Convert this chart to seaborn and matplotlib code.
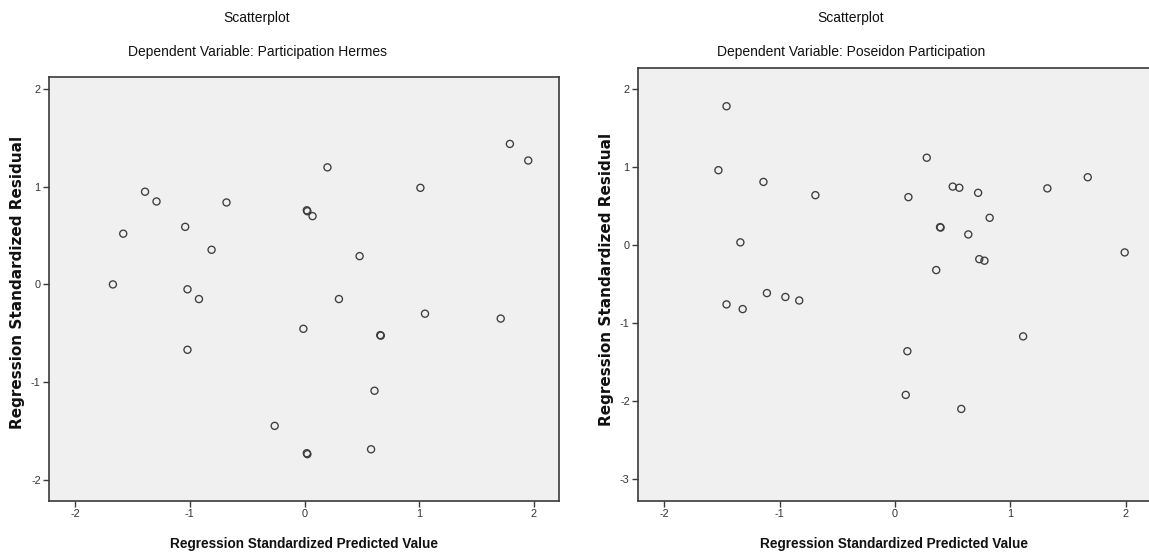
"""
SPSS style residual scatterplots (Hermes / Poseidon participation)
"""
import numpy as np
import pandas as pd
import matplotlib
matplotlib.use("Agg")
import matplotlib.pyplot as plt
import seaborn as sns

# ── data: standardized predicted value vs standardized residual ──
hermes_pred = [-1.67, -1.58, -1.39, -1.29, -1.04, -0.68, -0.81, -1.02, -0.92, -1.02,
               -0.26, 0.02, 0.025, 0.02, 0.025, 0.07, 0.20, 1.01, 1.79, 1.95,
               0.48, 0.30, -0.01, 1.05, 1.71, 0.66, 0.665, 0.61, 0.58]
hermes_resid = [0.00, 0.52, 0.95, 0.85, 0.59, 0.84, 0.355, -0.05, -0.15, -0.67,
                -1.45, -1.73, -1.74, 0.76, 0.75, 0.70, 1.20, 0.99, 1.44, 1.27,
                0.29, -0.15, -0.455, -0.30, -0.35, -0.52, -0.525, -1.09, -1.69]

poseidon_pred = [-1.46, -1.53, -1.14, -0.69, -1.34, -1.11, -0.95, -0.83, -1.46, -1.32,
                 0.275, 0.116, 0.50, 0.557, 0.72, 1.32, 1.67, 0.82, 0.39, 0.395,
                 0.635, 0.73, 0.775, 0.357, 1.99, 0.107, 1.11, 0.093, 0.574]
poseidon_resid = [1.78, 0.96, 0.81, 0.64, 0.035, -0.615, -0.665, -0.71, -0.76, -0.82,
                  1.12, 0.615, 0.75, 0.735, 0.67, 0.727, 0.87, 0.35, 0.23, 0.225,
                  0.137, -0.18, -0.20, -0.32, -0.094, -1.36, -1.17, -1.92, -2.10]

titles = ["Dependent Variable: Participation Hermes",
          "Dependent Variable: Poseidon Participation"]
xlabel = "Regression Standardized Predicted Value"
ylabel = "Regression Standardized Residual"

sns.set_theme(style="white")
plt.rcParams["font.family"] = ["Liberation Sans", "DejaVu Sans"]
plt.rcParams["axes.unicode_minus"] = False

W, H = 1149, 554
fig = plt.figure(figsize=(W / 100, H / 100), dpi=100, facecolor="white")

BG = "#F0F0F0"
EDGE = "#3A3A3A"
INK = "#111111"


def px_rect(l, t, r, b):
    return [l / W, 1 - b / H, (r - l) / W, (b - t) / H]


def panel(rect, pred, resid, yticks, ylim, title, title_x, ylab_x, ylab_y):
    ax = fig.add_axes(rect)
    df = pd.DataFrame({"pred": pred, "resid": resid})
    sns.scatterplot(data=df, x="pred", y="resid", ax=ax, marker="o", s=26,
                    facecolor="none", edgecolor="#3C3C3C", linewidth=0.95,
                    zorder=3)
    ax.set_facecolor(BG)
    for sp in ax.spines.values():
        sp.set_visible(True)
        sp.set_edgecolor(EDGE)
        sp.set_linewidth(1.2)
    ax.set_xlim(-2.227, 2.218)
    ax.set_ylim(*ylim)
    ax.set_xticks([-2, -1, 0, 1, 2])
    ax.set_yticks(yticks)
    ax.tick_params(direction="out", length=4.5, width=1, color=EDGE,
                   labelsize=7.8, labelcolor="#333333", pad=1.5,
                   bottom=True, left=True)
    ax.set_xlabel(xlabel, fontsize=9.8, fontweight="bold", color=INK, labelpad=13)
    ax.set_ylabel("")
    ax.grid(False)

    fig.text(title_x / W, 1 - 18 / H, "Scatterplot", ha="center", va="center",
             fontsize=10, color=INK)
    fig.text(title_x / W, 1 - 52 / H, title, ha="center", va="center",
             fontsize=10, color=INK)
    fig.text(ylab_x / W, 1 - ylab_y / H, ylabel, rotation=90, ha="center",
             va="center", fontsize=11, fontweight="bold", color=INK,
             family="DejaVu Sans")
    return ax


ax1 = panel(px_rect(49, 77, 559, 501), hermes_pred, hermes_resid,
            [-2, -1, 0, 1, 2], (-2.22, 2.126), titles[0], 257, 18, 282)

ax2 = panel(px_rect(638, 68, 1151, 501), poseidon_pred, poseidon_resid,
            [-3, -2, -1, 0, 1, 2], (-3.28, 2.27), titles[1], 851, 607, 279)

plt.savefig("out.png", dpi=100, facecolor="white")
plt.close()
